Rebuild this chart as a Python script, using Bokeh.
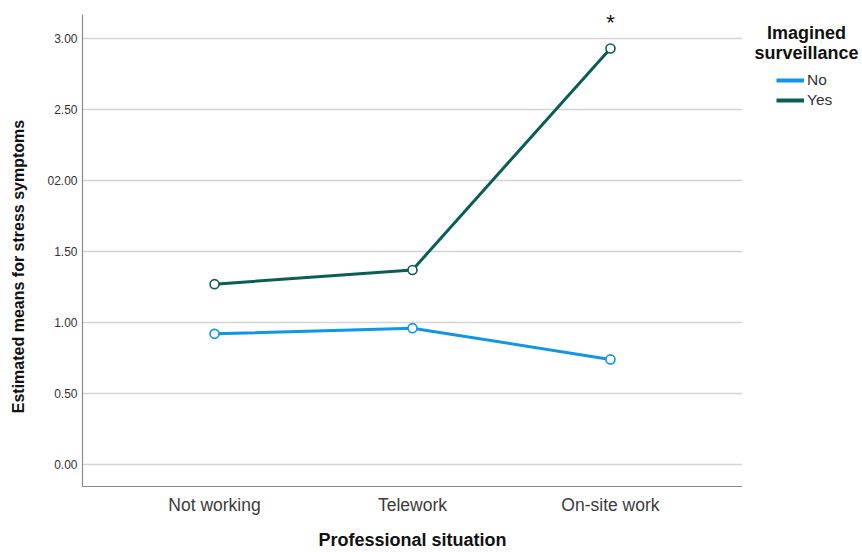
import math
from bokeh.plotting import figure
from bokeh.layouts import row
from bokeh.models import Range1d, FixedTicker, Legend, LegendItem, Label
from bokeh.embed import file_html
from bokeh.resources import INLINE

situations = ["Not working", "Telework", "On-site work"]
no_means = [0.92, 0.96, 0.74]
yes_means = [1.27, 1.37, 2.93]
groups = ["No", "Yes"]
group_colors = ["#1195e6", "#0b5d57"]
y_ticks = [0.0, 0.5, 1.0, 1.5, 2.0, 2.5, 3.0]
y_tick_labels = ["0.00", "0.50", "1.00", "1.50", "02.00", "2.50", "3.00"]
legend_title = ["Imagined", "surveillance"]
y_title = "Estimated means for stress symptoms"
x_title = "Professional situation"

xs = list(range(len(situations)))

# --- left strip holding the y-axis title (frame aligned: y 14 top .. 486 bottom)
t = figure(width=30, height=552, x_range=Range1d(0, 30), y_range=Range1d(486, 14),
           output_backend="svg", toolbar_location=None,
           min_border_left=0, min_border_right=0, min_border_top=14, min_border_bottom=66)
t.axis.visible = False
t.grid.grid_line_color = None
t.outline_line_color = None
t.add_layout(Label(x=18, y=266, text=y_title, angle=math.pi / 2, text_align="center",
                   text_baseline="middle", text_font="Liberation Sans", text_font_style="bold",
                   text_font_size="16px", text_color="#111111"))

# --- main plot
p = figure(width=712, height=552,
           x_range=Range1d(-0.667, 2.667), y_range=Range1d(-0.155, 3.169),
           output_backend="svg", toolbar_location=None,
           min_border_left=52, min_border_right=0, min_border_top=14, min_border_bottom=66)
p.outline_line_color = None
p.background_fill_color = "white"

for vals, col in zip([no_means, yes_means], group_colors):
    p.line(xs, vals, line_color=col, line_width=3)
    p.scatter(xs, vals, size=9, marker="circle", line_color=col, line_width=1.6, fill_color="white")

p.xaxis.ticker = FixedTicker(ticks=xs)
p.xaxis.major_label_overrides = {i: s for i, s in zip(xs, situations)}
p.yaxis.ticker = FixedTicker(ticks=y_ticks)
p.yaxis.major_label_overrides = {tk: s for tk, s in zip(y_ticks, y_tick_labels)}

for ax in (p.xaxis[0], p.yaxis[0]):
    ax.major_tick_out = 0
    ax.major_tick_in = 0
    ax.minor_tick_out = 0
    ax.minor_tick_in = 0
    ax.axis_line_color = "#8c8c8c"
    ax.axis_line_width = 1.2

p.xaxis.axis_label = x_title
p.xaxis.axis_label_text_font = "Liberation Sans"
p.xaxis.axis_label_text_font_style = "bold"
p.xaxis.axis_label_text_color = "#111111"
p.xaxis.axis_label_text_font_size = "18px"
p.xaxis.major_label_text_font = "Liberation Sans"
p.xaxis.major_label_text_font_size = "17.5px"
p.xaxis.major_label_text_color = "#3c3c3c"
p.xaxis.major_label_standoff = 8
p.xaxis.axis_label_standoff = 12

p.yaxis.major_label_text_font = "Liberation Sans"
p.yaxis.major_label_text_font_size = "12px"
p.yaxis.major_label_text_color = "#333333"
p.yaxis.major_label_standoff = 5

p.xgrid.grid_line_color = None
p.ygrid.grid_line_color = "#d4d4d4"
p.ygrid.grid_line_width = 1.6

# significance marker
p.add_layout(Label(x=xs[2], y=yes_means[2] + 0.18, text="*", text_align="center",
                   text_baseline="alphabetic", text_font="Liberation Sans",
                   text_font_size="22px", text_color="#111111"))

# --- legend strip on the right (frame aligned: y 14 top .. 486 bottom)
q = figure(width=120, height=552, x_range=Range1d(0, 120), y_range=Range1d(486, 14),
           output_backend="svg", toolbar_location=None,
           min_border_left=0, min_border_right=0, min_border_top=14, min_border_bottom=66)
q.axis.visible = False
q.grid.grid_line_color = None
q.outline_line_color = None

for i, line in enumerate(legend_title):
    q.add_layout(Label(x=64, y=32 + 20 * i, text=line, text_align="center", text_baseline="middle",
                       text_font="Liberation Sans", text_font_style="bold", text_font_size="18px",
                       text_color="#111111"))

# hidden dummy renderers (off-canvas) just to give the legend its swatches
dummy = [q.line([-1000, -999], [-1000, -1000], line_color=col, line_width=4) for col in group_colors]
legend = Legend(items=[LegendItem(label=g, renderers=[r]) for g, r in zip(groups, dummy)],
                location=(34, 376), margin=0, padding=0, spacing=0,
                label_height=20, glyph_height=20, glyph_width=28, label_standoff=3,
                border_line_alpha=0, background_fill_alpha=0,
                label_text_font="Liberation Sans", label_text_font_size="15.5px",
                label_text_color="#333333")
q.add_layout(legend)

layout = row(t, p, q, spacing=0)
open("out.html", "w").write(file_html(layout, INLINE))
